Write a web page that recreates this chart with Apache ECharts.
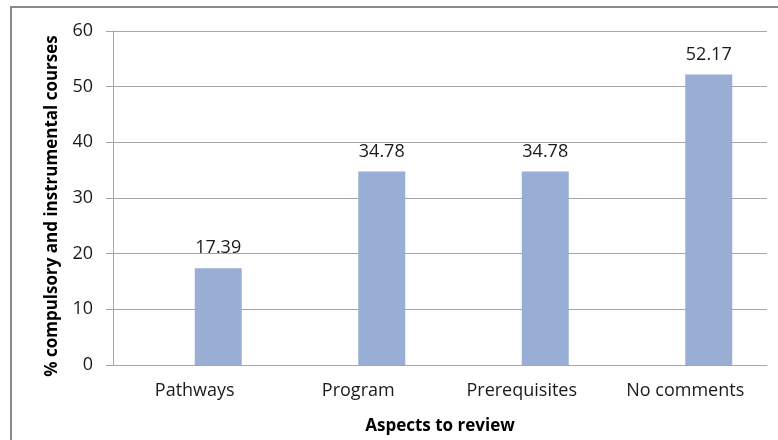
<!DOCTYPE html>
<html>
<head>
<meta charset="utf-8">
<script src="https://cdn.jsdelivr.net/npm/echarts@6/dist/echarts.min.js"></script>
<style>
  html, body { margin: 0; padding: 0; background: #ffffff; }
  #chart { width: 778px; height: 440px; }
</style>
</head>
<body>
<div id="chart"></div>
<script>
// Share of compulsory and instrumental courses by aspect to review
const categories = ['Pathways', 'Program', 'Prerequisites', 'No comments'];
const percentages = [17.39, 34.78, 34.78, 52.17];
// empty first slot of each cluster, so the bars sit right of the category centre
const emptySlot = [null, null, null, null];
const yTicks = { min: 0, max: 60, interval: 10 };

const FONT = '"Open Sans", sans-serif';
const chart = echarts.init(document.getElementById('chart'), null, { renderer: 'canvas' });

chart.setOption({
  animation: false,
  backgroundColor: '#ffffff',
  grid: { left: 113, right: 11, top: 31, bottom: 73, containLabel: false },
  graphic: [{
    type: 'rect',
    shape: { x: 11, y: 7, width: 800, height: 500 },
    style: { fill: 'none', stroke: '#8a8a8a', lineWidth: 2 },
    silent: true
  }],
  xAxis: {
    type: 'category',
    data: categories,
    name: 'Aspects to review',
    nameLocation: 'middle',
    nameGap: 53,
    nameTextStyle: { fontFamily: FONT, fontWeight: 'bold', fontSize: 17, color: '#000000' },
    axisLine: { show: true, lineStyle: { color: '#a6a6a6', width: 1 } },
    axisTick: { show: false },
    axisLabel: { margin: 17, fontFamily: FONT, fontSize: 18, color: '#1a1a1a' },
    splitLine: { show: false }
  },
  yAxis: {
    type: 'value',
    min: yTicks.min,
    max: yTicks.max,
    interval: yTicks.interval,
    name: '% compulsory and instrumental courses',
    nameLocation: 'middle',
    nameGap: 52,
    nameTextStyle: { fontFamily: FONT, fontWeight: 'bold', fontSize: 17, color: '#000000', padding: [0, 16, 0, 0] },
    axisLine: { show: true, lineStyle: { color: '#a6a6a6', width: 1 } },
    axisTick: { show: true, length: 7, lineStyle: { color: '#a6a6a6' } },
    axisLabel: { margin: 20, fontFamily: FONT, fontSize: 18, color: '#1a1a1a' },
    splitLine: { show: true, lineStyle: { color: '#a6a6a6', width: 1 } }
  },
  series: [
    {
      type: 'bar',
      data: emptySlot,
      barWidth: 47,
      barGap: '0%',
      silent: true
    },
    {
      type: 'bar',
      data: percentages,
      barWidth: 47,
      barGap: '0%',
      itemStyle: { color: '#98aed4' },
      label: {
        show: true,
        position: 'top',
        distance: 11,
        fontFamily: FONT,
        fontSize: 18,
        color: '#1a1a1a',
        formatter: p => p.value.toFixed(2)
      }
    }
  ]
});
</script>
</body>
</html>
